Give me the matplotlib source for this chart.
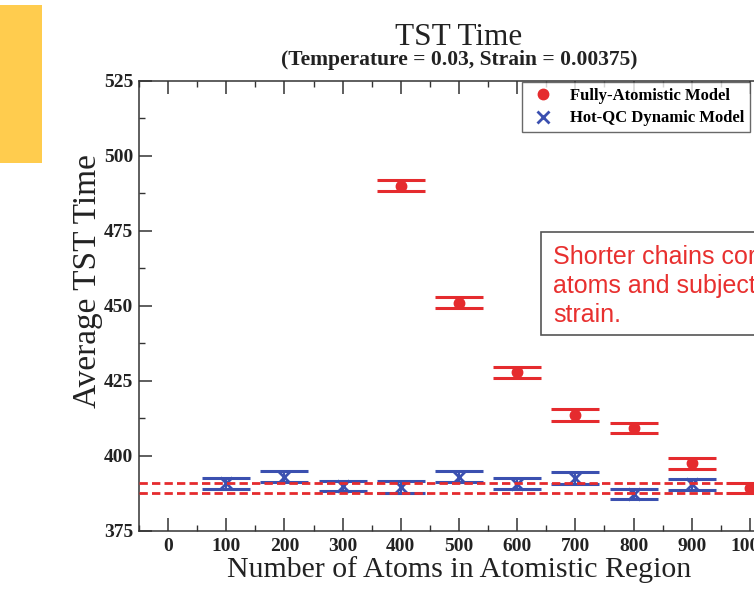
import matplotlib
matplotlib.use("Agg")
import matplotlib.pyplot as plt
from matplotlib.patches import Rectangle
from matplotlib.ticker import MultipleLocator

# data
fa_atoms = [400, 500, 600, 700, 800, 900, 1000]
fa_time = [490.1, 451.15, 427.85, 413.6, 409.4, 397.55, 389.25]
fa_err = [1.8, 1.85, 1.85, 1.9, 1.7, 1.75, 1.75]

qc_atoms = [100, 200, 300, 400, 500, 600, 700, 800, 900]
qc_time = [390.9, 393.1, 390.0, 389.7, 393.15, 390.75, 392.75, 387.25, 390.55]
qc_err = [1.9, 1.8, 1.8, 1.9, 1.85, 1.75, 1.95, 1.75, 1.75]

# dashed band (full-atomistic reference limits)
band = [387.6, 391.1]

xticks = list(range(0, 1001, 100))
yticks = list(range(375, 526, 25))

red = '#e52b2e'
blue = '#3b50b0'
W, H = 754.0, 590.0

plt.rcParams['font.family'] = ['Liberation Serif', 'DejaVu Serif']
plt.rcParams['lines.scale_dashes'] = False

fig = plt.figure(figsize=(7.54, 5.90), dpi=100)
ax = fig.add_axes([139 / W, 1 - 531 / H, 640 / W, 450 / H])

# error bars, caps only visible
ax.errorbar(fa_atoms, fa_time, yerr=fa_err, fmt='none', ecolor=red,
            elinewidth=1.5, capsize=17.3, capthick=2.2, zorder=3)
ax.errorbar(qc_atoms, qc_time, yerr=qc_err, fmt='none', ecolor=blue,
            elinewidth=1.5, capsize=17.3, capthick=2.2, zorder=3)

ax.plot(fa_atoms, fa_time, 'o', color=red, ms=7.5, zorder=4,
        label='Fully-Atomistic Model')
ax.plot(qc_atoms, qc_time, 'x', color=blue, ms=9, mew=2, zorder=4,
        label='Hot-QC Dynamic Model')

for b in band:
    ax.axhline(b, color=red, lw=2.0, linestyle=(0, (6, 3)), zorder=5)

ax.set_xlim(-50, 1050)
ax.set_ylim(375, 525)
ax.set_xticks(xticks)
ax.set_yticks(yticks)
ax.xaxis.set_minor_locator(MultipleLocator(50))
ax.yaxis.set_minor_locator(MultipleLocator(12.5))
ax.tick_params(which='both', direction='in', top=True, right=True,
               colors='#333333')
ax.tick_params(which='major', length=9.2, width=1.1)
ax.tick_params(which='minor', length=4.6, width=1.0)
ax.tick_params(axis='x', pad=5)
ax.tick_params(axis='y', pad=4)
for lab in ax.get_xticklabels() + ax.get_yticklabels():
    lab.set_fontweight('bold')
    lab.set_fontsize(14)
    lab.set_color('#222222')
for s in ax.spines.values():
    s.set_linewidth(1.1)
    s.set_color('#333333')

ax.set_xlabel('Number of Atoms in Atomistic Region', fontsize=21.5,
              color='#222222', labelpad=1)
ax.set_ylabel('Average TST Time', fontsize=24, color='#222222')
ax.yaxis.set_label_coords(-0.057, 0.555)

fig.text(459 / W, 1 - 45 / H, 'TST Time', ha='center', va='baseline',
         fontsize=22.5, color='#222222')
fig.text(459 / W, 1 - 65 / H, '(Temperature = 0.03, Strain = 0.00375)',
         ha='center', va='baseline', fontsize=15.5, fontweight='bold',
         color='#222222')

leg = fig.legend(loc='upper left', bbox_to_anchor=(522 / W, 1 - 82 / H),
                 prop={'weight': 'bold', 'size': 12},
                 frameon=True, fancybox=False, borderpad=0.35,
                 handlelength=1.76, handletextpad=0.75, labelspacing=0.4,
                 borderaxespad=0)
leg.get_frame().set_edgecolor('#444444')
leg.get_frame().set_linewidth(1.0)

# slide decorations around the chart
fig.patches.append(Rectangle((0, 1 - 163 / H), 42 / W, 158 / H,
                             transform=fig.transFigure, facecolor='#ffcc4e',
                             edgecolor='none', zorder=0))
fig.patches.append(Rectangle((541 / W, 1 - 335 / H), 260 / W, 103 / H,
                             transform=fig.transFigure, facecolor='white',
                             edgecolor='#555555', linewidth=1.2, zorder=10))
fig.text(553 / W, 1 - 245 / H,
         'Shorter chains correspond to fewer\natoms and subjected to more\nstrain.',
         ha='left', va='top', fontsize=18, color='#e8302f',
         family='Liberation Sans', linespacing=1.25, zorder=11)

fig.savefig('out.png', dpi=100)
